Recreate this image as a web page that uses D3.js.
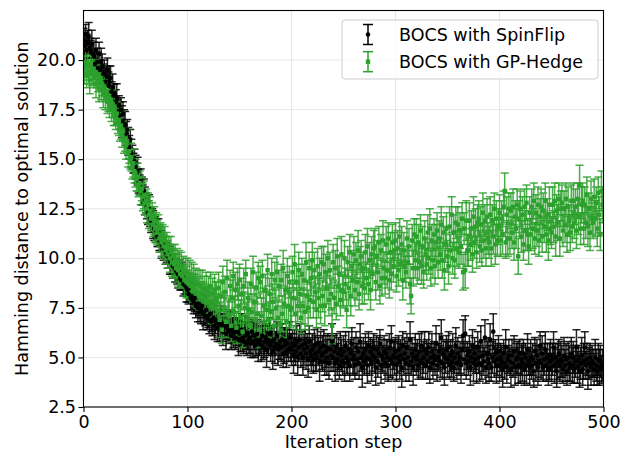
<!DOCTYPE html>
<html><head><meta charset="utf-8">
<script src="https://cdn.jsdelivr.net/npm/d3@7"></script>
<style>body{margin:0;background:#fff} svg text{font-family:"DejaVu Sans",sans-serif}</style>
</head><body><svg id="c" width="621" height="455"></svg>
<script>
// iteration steps 0..499
const steps = d3.range(0, 500);
const xTicks = [0, 100, 200, 300, 400, 500];
const yTicks = [2.5, 5.0, 7.5, 10.0, 12.5, 15.0, 17.5, 20.0];
const seriesNames = ["BOCS with SpinFlip", "BOCS with GP-Hedge"];

const spinFlipMean = [
21.0,20.7,21.3,20.5,20.9,21.2,20.6,20.4,20.8,20.3,
20.2,19.8,20.5,19.9,19.6,20.3,19.5,19.9,19.7,19.3,
19.4,18.9,19.2,19.5,18.7,18.9,19.1,18.4,18.6,18.2,
18.3,17.9,18.1,17.4,17.7,17.2,17.5,16.9,17.3,16.8,
16.7,16.3,16.5,15.9,15.6,16.0,15.3,15.1,14.8,14.9,
14.6,14.3,14.4,13.9,13.7,13.9,13.4,13.2,13.4,12.9,
12.8,12.6,12.3,12.5,12.1,11.9,12.0,11.7,11.5,11.6,
11.4,11.1,11.3,10.9,11.0,10.7,10.8,10.5,10.6,10.3,
10.3,10.1,10.2,9.9,9.8,10.0,9.6,9.7,9.5,9.4,
9.3,9.2,9.4,9.0,8.9,9.1,8.7,8.8,8.6,8.5,
8.4,8.2,8.5,8.0,8.1,7.9,7.8,8.0,7.6,7.7,
7.5,7.7,7.3,7.4,7.6,7.2,7.3,7.1,7.4,7.0,
7.1,6.9,7.2,6.8,6.9,7.0,6.6,6.8,6.9,6.5,
6.7,6.4,6.8,6.6,6.3,6.7,6.5,6.2,6.6,6.4,
6.3,6.6,6.1,6.4,6.2,6.5,6.0,6.3,6.4,5.9,
6.2,5.9,6.4,6.0,5.8,6.3,6.1,5.7,6.2,5.9,
6.0,5.7,6.3,5.8,6.1,5.6,5.9,6.2,5.7,5.8,
5.9,5.6,6.1,5.5,5.8,6.0,5.4,5.9,5.7,6.2,
5.6,5.8,5.3,5.9,5.5,5.7,6.1,5.4,5.6,5.8,
5.5,5.9,5.2,5.6,5.8,5.3,5.7,5.4,6.0,5.5,
5.4,5.7,5.1,5.6,5.3,5.8,5.0,5.5,5.9,5.2,
5.6,5.0,5.4,5.7,5.2,5.5,4.9,5.8,5.3,5.1,
5.4,4.9,5.6,5.2,5.0,5.7,5.3,4.8,5.5,5.1,
5.2,5.6,4.8,5.3,5.0,5.5,4.7,5.4,5.1,5.8,
5.0,5.3,4.7,5.5,4.9,5.2,4.6,5.4,5.1,4.8,
5.3,4.7,5.6,5.0,4.8,5.4,4.6,5.2,5.7,4.9,
5.1,4.6,5.5,4.9,5.3,4.7,5.8,5.0,4.5,5.2,
4.8,5.4,5.0,4.6,5.6,4.9,5.3,4.7,5.1,5.5,
5.0,4.5,5.4,4.8,5.2,5.7,4.6,5.1,4.9,5.3,
4.7,5.2,5.0,4.6,5.5,4.9,5.8,4.7,5.1,5.0,
5.3,4.6,5.0,5.4,4.8,5.1,4.5,5.6,4.9,5.2,
4.7,5.5,5.0,4.6,5.9,4.8,5.2,4.5,5.0,5.4,
4.9,5.1,4.6,5.3,4.8,5.6,4.7,5.0,5.4,4.6,
5.2,4.8,5.5,4.5,5.0,5.3,4.7,5.1,4.9,5.7,
4.6,5.0,5.3,4.8,6.0,4.7,5.2,4.5,5.0,5.4,
4.9,5.5,4.6,5.1,4.8,5.3,4.5,5.0,5.6,4.7,
5.2,4.8,5.0,4.6,5.4,6.1,4.9,6.2,4.7,5.1,
4.8,5.3,4.5,5.0,5.6,4.7,5.2,4.9,4.6,5.5,
5.0,4.7,5.8,4.6,5.1,4.8,6.0,4.5,5.2,4.9,
4.7,5.9,4.5,5.0,6.3,4.8,5.2,4.6,4.9,5.3,
4.6,5.0,4.8,4.4,5.2,4.7,5.5,4.5,4.9,5.1,
4.8,4.4,5.1,4.7,5.3,4.5,4.9,5.0,4.6,5.2,
4.5,4.9,4.7,5.2,4.4,5.0,4.6,5.4,4.8,4.5,
5.0,4.6,4.9,4.3,5.3,4.7,5.1,4.5,4.8,5.6,
4.7,5.2,4.5,4.9,5.4,4.6,5.0,4.4,4.8,5.1,
4.5,4.9,5.5,4.6,5.0,4.3,4.8,5.2,4.6,4.9,
4.8,4.4,5.1,4.6,4.9,4.3,5.0,4.7,4.5,5.2,
4.6,5.0,4.4,4.8,5.5,4.5,4.9,4.3,4.7,5.1,
4.4,4.8,5.5,4.6,4.9,4.3,4.7,5.0,4.5,4.8,
4.7,4.4,5.0,4.6,4.3,4.9,4.5,4.8,4.4,4.6];
const spinFlipErr = [
0.6,0.7,0.5,0.8,0.6,0.7,0.5,0.6,0.7,0.6,
0.7,0.5,0.6,0.7,0.8,0.6,0.5,0.7,0.6,0.5,
0.6,0.7,0.5,0.6,0.7,0.8,0.6,0.5,0.7,0.6,
0.5,0.6,0.7,0.6,0.5,0.7,0.6,0.8,0.6,0.7,
0.7,0.6,0.5,0.7,0.6,0.5,0.7,0.6,0.5,0.6,
0.6,0.5,0.7,0.6,0.5,0.6,0.7,0.5,0.6,0.7,
0.5,0.6,0.6,0.7,0.5,0.6,0.5,0.7,0.6,0.5,
0.6,0.5,0.7,0.5,0.6,0.7,0.5,0.6,0.5,0.6,
0.5,0.6,0.5,0.7,0.6,0.5,0.6,0.5,0.7,0.6,
0.6,0.7,0.5,0.6,0.5,0.7,0.6,0.6,0.5,0.7,
0.6,0.5,0.7,0.6,0.7,0.5,0.6,0.7,0.6,0.5,
0.7,0.6,0.5,0.7,0.6,0.8,0.6,0.5,0.7,0.6,
0.6,0.7,0.6,0.5,0.8,0.6,0.7,0.6,0.5,0.7,
0.7,0.6,0.8,0.6,0.7,0.5,0.6,0.8,0.7,0.6,
0.6,0.8,0.7,0.6,0.7,0.8,0.6,0.7,0.6,0.8,
0.7,0.6,0.8,0.7,0.6,0.8,0.7,0.6,0.8,0.7,
0.8,0.7,0.6,0.8,0.7,0.6,0.8,0.7,0.9,0.7,
0.7,0.8,0.7,0.6,0.8,0.7,0.9,0.7,0.6,0.8,
0.8,0.7,0.9,0.7,0.8,0.6,0.7,0.8,0.7,0.9,
0.7,0.8,0.7,0.9,0.7,0.8,0.7,0.6,0.8,0.7,
0.8,0.7,0.9,0.8,0.7,0.8,0.9,0.7,0.8,0.7,
0.7,0.9,0.8,0.7,0.8,0.7,0.9,0.8,0.7,0.8,
0.8,0.7,0.8,0.9,0.7,0.8,0.7,1.0,0.8,0.7,
0.9,0.8,0.7,0.8,0.9,0.7,0.8,0.7,0.8,0.9,
0.7,0.8,0.9,0.7,0.8,0.8,0.7,0.9,0.8,0.7,
0.8,0.9,0.7,0.8,0.7,0.9,0.8,0.7,0.8,0.8,
0.9,0.7,0.8,0.8,0.7,0.8,0.9,0.7,1.0,0.8,
0.7,0.8,0.8,0.9,0.7,0.8,0.7,0.9,0.8,0.7,
0.8,0.9,0.7,0.8,0.8,0.7,0.9,0.8,0.7,0.8,
0.8,0.7,0.9,0.8,0.7,0.9,0.8,0.8,0.7,0.9,
0.7,0.8,0.8,0.7,0.9,0.8,1.0,0.7,0.8,0.8,
0.9,0.7,0.8,0.8,0.9,0.7,0.8,0.9,0.7,0.8,
0.8,0.8,0.7,0.9,0.8,0.7,0.8,0.8,0.9,0.7,
0.7,0.9,0.8,0.8,0.7,0.9,0.8,0.7,0.8,0.9,
0.8,0.7,0.9,0.8,0.9,0.8,0.7,0.9,0.8,0.7,
0.9,0.8,0.7,0.8,0.8,0.9,0.7,0.8,0.9,0.8,
0.8,0.7,0.8,0.9,0.7,0.8,0.8,0.9,0.8,0.7,
0.7,0.8,0.9,0.7,0.8,0.9,0.8,0.7,0.9,0.8,
0.8,0.9,0.8,0.7,0.8,0.7,0.9,0.8,0.8,0.9,
0.9,0.8,0.7,0.8,0.9,0.8,0.7,0.9,0.8,0.8,
0.8,0.7,0.8,0.9,0.7,0.8,0.9,0.8,0.7,0.8,
0.7,0.9,0.8,0.7,0.8,0.9,0.8,0.8,0.9,0.7,
0.8,0.8,0.9,0.7,0.8,0.7,0.9,0.8,0.7,0.9,
0.9,0.7,0.8,0.8,0.7,0.9,0.8,0.9,0.8,0.7,
0.8,0.9,0.7,0.8,0.9,0.8,0.7,0.8,0.9,0.8,
0.7,0.8,0.8,0.9,0.7,0.8,0.9,0.7,0.8,0.9,
0.8,0.7,0.9,0.8,0.8,0.7,0.8,0.9,0.7,0.8,
0.9,0.8,0.7,0.8,0.9,0.8,0.7,0.8,0.8,0.9,
0.8,0.9,0.8,0.7,0.8,0.9,0.8,0.7,0.9,0.8,
0.7,0.8,0.9,0.8,0.7,0.8,0.9,0.8,0.7,0.8];

const gpHedgeMean = [
19.6,19.3,19.9,19.2,19.7,19.4,19.0,19.8,19.3,19.5,
19.1,19.4,18.8,19.2,18.9,18.6,19.1,18.5,18.8,18.3,
18.6,18.2,18.4,17.9,18.1,17.7,18.0,17.5,17.8,17.3,
17.4,17.1,17.3,16.8,16.9,16.5,16.7,16.2,16.4,15.9,
16.0,15.7,15.9,15.3,15.4,15.0,15.1,14.6,14.8,14.4,
14.3,14.0,14.1,13.7,13.8,13.4,13.5,13.1,13.2,12.8,
12.9,12.5,12.7,12.2,12.4,12.0,12.1,11.7,11.9,11.5,
11.6,11.3,11.5,11.0,11.2,10.8,11.0,10.6,10.9,10.4,
10.6,10.2,10.5,10.0,10.3,9.8,10.1,9.7,9.9,9.5,
9.8,9.4,9.7,9.2,9.5,9.1,9.4,8.9,9.3,8.8,
9.2,8.7,9.1,8.6,9.0,8.5,8.9,8.4,8.8,8.3,
8.7,8.2,8.6,8.1,8.5,8.0,8.4,7.9,8.5,7.8,
8.3,7.8,8.6,7.6,8.2,7.5,8.4,7.9,8.0,7.4,
8.5,6.9,8.1,6.4,8.8,7.4,8.3,6.8,9.0,7.2,
7.1,8.6,6.6,8.0,9.1,7.3,8.4,6.5,8.7,7.6,
8.9,7.0,8.2,6.3,8.6,7.5,9.2,6.9,8.0,7.4,
6.6,8.7,7.3,9.3,7.8,6.9,8.5,7.2,9.0,6.4,
8.8,7.1,9.1,7.6,6.8,8.4,7.4,9.4,6.9,8.2,
7.3,9.2,7.8,6.6,8.9,7.5,9.3,7.0,8.6,6.7,
8.9,7.2,9.5,7.7,8.4,6.8,9.1,7.6,8.8,7.4,
7.5,9.3,8.0,9.7,7.2,8.8,7.6,9.4,8.2,7.0,
9.2,7.6,8.9,7.3,9.8,8.1,7.5,9.5,7.9,9.0,
9.9,7.8,9.4,8.3,7.4,9.6,8.0,9.2,7.6,9.8,
8.1,9.7,7.6,9.3,8.5,10.0,7.9,9.4,8.2,6.6,
9.8,8.0,9.5,7.7,10.1,8.6,9.2,7.9,10.2,8.4,
8.3,10.0,8.7,7.4,9.8,8.5,10.3,8.1,9.6,8.9,
10.2,8.4,9.9,8.8,10.4,8.2,9.7,10.1,8.6,9.5,
8.5,10.3,9.0,10.6,8.7,9.9,8.4,10.2,9.2,10.5,
10.6,8.8,10.1,9.3,10.8,8.6,10.4,9.0,10.9,9.5,
9.0,10.7,9.4,11.0,8.9,10.3,9.2,10.8,9.6,10.4,
10.9,9.1,10.5,9.4,11.1,9.7,10.7,8.9,10.4,9.6,
9.3,11.0,9.8,10.6,8.7,8.1,10.9,9.5,11.2,9.9,
11.1,9.5,10.8,9.8,11.4,9.6,10.6,9.3,11.0,10.2,
9.7,11.3,10.0,11.5,9.5,10.9,9.9,11.2,9.6,10.8,
11.4,9.8,11.0,10.2,11.7,9.9,11.3,9.4,10.7,11.5,
10.1,9.6,11.6,10.4,12.2,10.0,11.3,9.9,11.8,10.5,
11.7,10.3,11.4,10.6,12.0,9.3,11.5,9.4,11.9,10.4,
10.4,11.9,10.7,11.5,10.2,12.1,10.8,11.6,10.3,11.8,
12.0,10.6,11.7,10.4,12.3,10.9,11.9,10.5,12.1,11.0,
10.8,12.2,10.5,11.9,11.1,12.5,10.7,12.0,10.9,11.6,
12.3,10.9,12.0,11.2,12.6,13.4,10.8,12.2,11.0,12.5,
11.0,12.4,11.3,12.6,10.8,12.1,11.5,12.7,10.1,12.0,
12.5,11.1,12.2,10.7,12.6,11.4,12.8,11.2,10.6,12.3,
11.2,12.6,11.5,12.9,11.0,12.3,11.4,12.7,10.9,12.1,
12.6,11.1,12.4,11.6,12.9,11.2,12.2,10.9,12.7,11.5,
11.3,12.7,11.6,12.9,11.1,12.4,11.8,13.0,11.0,12.5,
12.8,11.4,12.5,11.7,13.0,11.2,12.6,11.9,11.3,12.9,
11.6,12.9,11.8,12.6,11.4,13.0,12.1,13.7,11.5,12.7,
12.9,11.5,12.7,11.8,13.2,11.6,12.5,11.3,13.0,12.0,
11.8,13.1,12.0,12.8,11.5,13.3,12.2,11.2,13.4,12.7];
const gpHedgeErr = [
0.6,0.5,0.7,0.6,0.5,0.6,0.7,0.5,0.6,0.7,
0.5,0.6,0.7,0.6,0.5,0.7,0.6,0.5,0.6,0.7,
0.6,0.7,0.5,0.6,0.7,0.6,0.5,0.6,0.7,0.6,
0.7,0.6,0.6,0.5,0.7,0.6,0.7,0.6,0.5,0.6,
0.6,0.7,0.6,0.7,0.6,0.5,0.7,0.6,0.7,0.6,
0.7,0.6,0.7,0.6,0.6,0.7,0.6,0.7,0.7,0.6,
0.6,0.7,0.6,0.7,0.7,0.6,0.7,0.6,0.7,0.7,
0.7,0.6,0.7,0.7,0.6,0.7,0.7,0.6,0.7,0.7,
0.7,0.7,0.6,0.7,0.8,0.7,0.6,0.7,0.8,0.7,
0.7,0.8,0.7,0.7,0.8,0.6,0.7,0.8,0.7,0.8,
0.8,0.7,0.8,0.7,0.8,0.7,0.8,0.8,0.7,0.8,
0.7,0.8,0.8,0.7,0.9,0.8,0.7,0.8,0.8,0.7,
0.8,0.8,0.7,0.9,0.8,0.7,0.8,0.9,0.8,0.8,
0.8,0.9,0.8,0.7,0.8,0.9,0.8,0.8,0.9,0.7,
0.9,0.8,0.8,0.9,0.7,0.8,0.9,0.8,0.8,0.9,
0.8,0.9,0.8,0.8,0.9,0.8,0.7,0.9,0.8,0.8,
0.9,0.8,0.9,0.8,0.8,0.9,0.8,0.9,0.8,0.9,
0.8,0.9,0.8,0.9,0.9,0.8,0.9,0.8,0.9,0.8,
0.9,0.8,0.9,0.8,0.9,0.9,0.8,0.9,0.8,0.9,
0.8,0.9,0.9,0.8,0.9,0.8,0.9,0.9,0.8,0.9,
0.9,0.8,0.9,1.0,0.8,0.9,0.8,0.9,0.9,0.8,
0.8,0.9,0.8,0.9,1.0,0.8,0.9,0.8,0.9,0.9,
0.9,0.8,0.9,0.8,0.9,0.9,1.0,0.8,0.9,0.8,
0.8,0.9,1.0,0.9,0.8,0.9,0.8,0.9,0.8,0.9,
0.9,0.8,0.9,0.8,0.9,1.0,0.9,0.8,0.9,0.8,
0.8,0.9,0.8,0.9,0.8,0.9,0.9,1.0,0.8,0.9,
0.9,0.8,0.9,0.9,1.0,0.8,0.9,0.8,0.9,0.8,
0.8,0.9,0.8,0.9,0.8,0.9,1.0,0.9,0.8,0.9,
0.9,0.9,0.8,0.9,0.8,0.9,0.8,0.9,1.0,0.8,
0.8,0.9,0.9,0.8,0.9,1.0,0.8,0.9,0.8,0.9,
0.9,0.8,0.9,0.8,0.9,0.8,0.9,1.0,0.9,0.8,
0.8,0.9,0.8,0.9,1.0,0.9,0.8,0.9,0.8,0.9,
0.9,0.8,0.9,0.9,0.8,0.9,1.0,0.8,0.9,0.8,
0.8,0.9,0.8,1.0,0.9,0.8,0.9,0.8,0.9,0.9,
0.9,0.8,0.9,0.8,0.9,0.9,0.8,1.0,0.9,0.8,
0.8,0.9,1.0,0.8,0.9,0.8,0.9,0.9,0.8,0.9,
0.9,0.8,0.9,0.9,0.8,0.9,0.8,0.9,1.0,0.8,
0.8,0.9,0.8,0.9,0.9,1.0,0.8,0.9,0.8,0.9,
0.9,0.8,0.9,0.8,1.0,0.9,0.8,0.9,0.9,0.8,
0.8,0.9,0.9,0.8,0.9,0.8,1.0,0.9,0.8,0.9,
0.9,0.8,0.9,1.0,0.8,0.9,0.8,0.9,0.9,0.8,
0.8,0.9,0.8,0.9,0.9,0.8,1.0,0.8,0.9,0.9,
0.9,0.8,0.9,0.8,0.9,1.0,0.9,0.8,0.9,0.8,
0.8,0.9,1.0,0.9,0.8,0.9,0.8,0.9,0.8,0.9,
0.9,0.8,0.9,0.8,0.9,0.9,0.8,1.0,0.9,0.8,
0.8,0.9,0.8,0.9,1.0,0.8,0.9,0.8,0.9,0.9,
0.9,0.8,0.9,0.9,0.8,0.9,1.0,0.8,0.9,0.8,
0.8,0.9,0.8,0.9,0.9,0.8,0.9,1.0,0.8,0.9,
0.9,0.8,0.9,0.8,0.9,1.0,0.8,0.9,0.9,0.8,
0.8,0.9,0.9,0.8,0.9,0.8,0.9,0.8,1.0,0.9];

const L = 83.5, R = 603.5, T = 10.5, B = 407;
const FS = 17.5;
const svg = d3.select("#c");
const x = d3.scaleLinear().domain([0, 500]).range([L, R]);
const y = d3.scaleLinear().domain([2.5, 22.5]).range([B, T]);

svg.append("defs").append("clipPath").attr("id", "clip")
  .append("rect").attr("x", L).attr("y", T).attr("width", R - L).attr("height", B - T);

// grid
const grid = svg.append("g").attr("stroke", "#e6e6e6").attr("stroke-width", 1);
grid.selectAll("line.gx").data(xTicks).join("line")
  .attr("x1", d => x(d)).attr("x2", d => x(d)).attr("y1", T).attr("y2", B);
grid.selectAll("line.gy").data(yTicks).join("line")
  .attr("x1", L).attr("x2", R).attr("y1", d => y(d)).attr("y2", d => y(d));

const series = [
  {name: seriesNames[0], mean: spinFlipMean, err: spinFlipErr, color: "#000000", marker: "circle"},
  {name: seriesNames[1], mean: gpHedgeMean, err: gpHedgeErr, color: "#2ca02c", marker: "square"}
];
const CAP = 4;
const plot = svg.append("g").attr("clip-path", "url(#clip)");

// error bars first (both series), then markers
series.forEach(s => {
  const pts = steps.map((st, i) => ({x: st, m: s.mean[i], e: s.err[i]}));
  const g = plot.append("g").attr("stroke", s.color).attr("stroke-width", 1.5).attr("stroke-opacity", 0.85);
  g.selectAll("line.v").data(pts).join("line").attr("class", "v")
    .attr("x1", d => x(d.x)).attr("x2", d => x(d.x))
    .attr("y1", d => y(d.m - d.e)).attr("y2", d => y(d.m + d.e));
  g.selectAll("line.ct").data(pts).join("line").attr("class", "ct")
    .attr("x1", d => x(d.x) - CAP).attr("x2", d => x(d.x) + CAP)
    .attr("y1", d => y(d.m + d.e)).attr("y2", d => y(d.m + d.e));
  g.selectAll("line.cb").data(pts).join("line").attr("class", "cb")
    .attr("x1", d => x(d.x) - CAP).attr("x2", d => x(d.x) + CAP)
    .attr("y1", d => y(d.m - d.e)).attr("y2", d => y(d.m - d.e));
});
series.forEach(s => {
  const pts = steps.map((st, i) => ({x: st, m: s.mean[i]}));
  const g = plot.append("g").attr("fill", s.color);
  if (s.marker === "circle") {
    g.selectAll("circle").data(pts).join("circle")
      .attr("cx", d => x(d.x)).attr("cy", d => y(d.m)).attr("r", 2.3);
  } else {
    g.selectAll("rect").data(pts).join("rect")
      .attr("x", d => x(d.x) - 2.2).attr("y", d => y(d.m) - 2.2)
      .attr("width", 4.4).attr("height", 4.4);
  }
});

// axes
const xAxis = d3.axisBottom(x).tickValues(xTicks).tickFormat(d3.format("d"))
  .tickSize(5).tickSizeOuter(0).tickPadding(3.5);
const yAxis = d3.axisLeft(y).tickValues(yTicks).tickFormat(d3.format(".1f"))
  .tickSize(5).tickSizeOuter(0).tickPadding(2.5);
const gx = svg.append("g").attr("transform", `translate(0,${B})`).call(xAxis);
const gy = svg.append("g").attr("transform", `translate(${L},0)`).call(yAxis);
[gx, gy].forEach(g => {
  g.select(".domain").remove();
  g.selectAll(".tick line").attr("stroke", "#000").attr("stroke-width", 1.1);
  g.selectAll(".tick text").attr("fill", "#000").style("font-size", FS + "px")
    .style("font-family", '"DejaVu Sans", sans-serif');
});

// spines
svg.append("rect").attr("x", L).attr("y", T).attr("width", R - L).attr("height", B - T)
  .attr("fill", "none").attr("stroke", "#000").attr("stroke-width", 1.1);

// labels
svg.append("text").attr("x", (L + R) / 2).attr("y", 448).attr("text-anchor", "middle")
  .style("font-size", FS + "px").text("Iteration step");
svg.append("text").attr("transform", `translate(28,${(T + B) / 2}) rotate(-90)`)
  .attr("text-anchor", "middle").style("font-size", FS + "px")
  .text("Hamming distance to optimal solution");

// legend
const lg = svg.append("g");
lg.append("rect").attr("x", 342).attr("y", 20).attr("width", 256).attr("height", 59).attr("rx", 3)
  .attr("fill", "#fff").attr("fill-opacity", 0.8).attr("stroke", "#cccccc").attr("stroke-width", 1);
series.forEach((s, i) => {
  const cy = 34.5 + i * 27.2;
  const hx = 368;
  const g = lg.append("g").attr("stroke", s.color).attr("stroke-width", 1.5);
  g.append("line").attr("x1", hx).attr("x2", hx).attr("y1", cy - 10).attr("y2", cy + 10);
  g.append("line").attr("x1", hx - 5).attr("x2", hx + 5).attr("y1", cy - 10).attr("y2", cy - 10);
  g.append("line").attr("x1", hx - 5).attr("x2", hx + 5).attr("y1", cy + 10).attr("y2", cy + 10);
  if (s.marker === "circle") lg.append("circle").attr("cx", hx).attr("cy", cy).attr("r", 2.3).attr("fill", s.color);
  else lg.append("rect").attr("x", hx - 2.2).attr("y", cy - 2.2).attr("width", 4.4).attr("height", 4.4).attr("fill", s.color);
  lg.append("text").attr("x", 399).attr("y", cy + 6.6).style("font-size", FS + "px").attr("fill", "#000").text(s.name);
});
</script></body></html>
